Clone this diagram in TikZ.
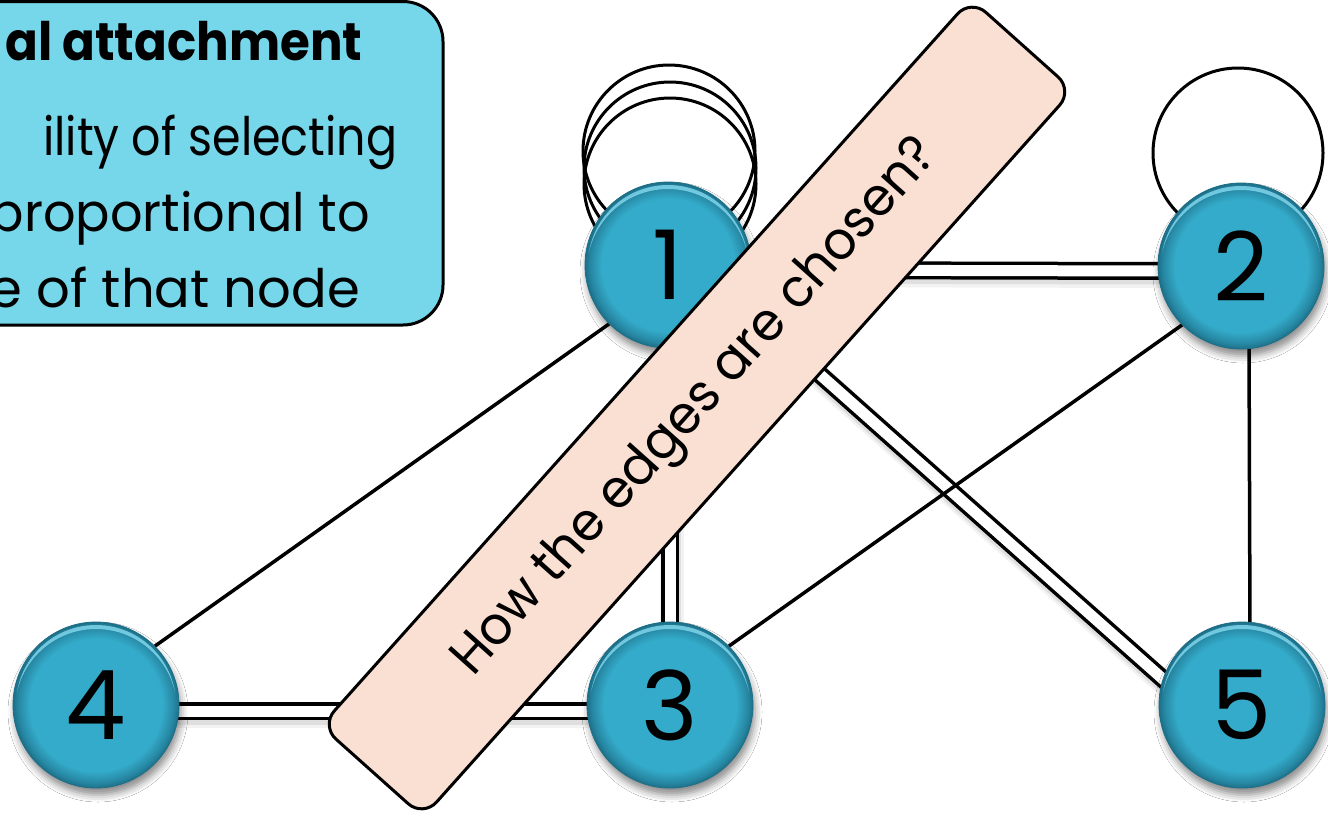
\documentclass[tikz,border=0pt]{standalone}
\usepackage{fontspec}
\setmainfont{Poppins}
\usetikzlibrary{calc,shadows.blur}

\definecolor{ballmid}{HTML}{34ABCA}
\definecolor{balldark}{HTML}{1D6F88}
\definecolor{ballhi}{HTML}{8BE0F5}
\definecolor{notefill}{HTML}{76D6EA}
\definecolor{bannerfill}{HTML}{FADFD3}

% flat teal disc with a darker rim
\pgfdeclareradialshading{ballshade}{\pgfpoint{0bp}{0bp}}{%
  color(0bp)=(ballmid); color(20bp)=(ballmid);
  color(23.5bp)=(balldark!60!ballmid); color(25bp)=(balldark); color(50bp)=(balldark)}

% text squeezed or stretched to a given width, keeping its height
\newcommand\fitto[2]{\resizebox{#1}{\height}{#2}}
\newcommand\slidefont{\fontsize{53}{60}\selectfont}

\tikzset{
  ball/.style={circle, minimum size=166pt, inner sep=0pt, shade, shading=ballshade,
    draw=balldark, line width=0.8pt,
    blur shadow={shadow xshift=2pt, shadow yshift=-7pt, shadow blur radius=7pt, shadow opacity=45},
    font=\fontsize{96}{96}\selectfont,
    path picture={
      \coordinate (pc) at (path picture bounding box.center);
      \begin{scope}
        \clip (pc) circle[radius=80];
        \fill[ballhi, opacity=.75, even odd rule]
          ($(pc)+(-100,-100)$) rectangle ($(pc)+(100,100)$)
          ($(pc)+(0,5)$) circle[radius=81];
      \end{scope}}},
  spot/.style={circle, minimum size=166pt, inner sep=0pt},
  single/.style={line width=3.5pt, black},
  dbl/.style={line width=3.5pt, double=white, double distance=11pt},
  dblshadowa/.style={line width=24pt, black, opacity=.05},
  dblshadowb/.style={line width=19pt, black, opacity=.08},
  loopline/.style={line width=3pt, black},
  banner/.style={rectangle, rounded corners=20pt, minimum width=975pt, minimum height=137pt,
    fill=bannerfill, draw=black, line width=3pt, rotate=48.2, inner sep=0pt},
  boxtext/.style={inner sep=0pt, font=\slidefont},
}

\begin{document}
\begin{tikzpicture}[x=1pt, y=-1pt]
  \useasboundingbox (0,0) rectangle (1328,815);
  \clip (0,0) rectangle (1328,815);
  \fill[white] (0,0) rectangle (1328,815);

  % invisible placeholders giving the edges their anchors
  \node[spot] (n1) at (668,265) {};
  \node[spot] (n2) at (1241,266) {};
  \node[spot] (n3) at (670,705) {};
  \node[spot] (n4) at (96,705) {};
  \node[spot] (n5) at (1242,705) {};

  % self loops
  \draw[loopline] (669,151) circle[radius=86];
  \draw[loopline] (670,168) circle[radius=86];
  \draw[loopline] (670,184) circle[radius=86];
  \draw[loopline] (1238,153) circle[radius=85];

  % double edges: soft shadow, then the pair of lines
  \coordinate (a12) at ($(n1.east)+(-10,5)$);   \coordinate (b12) at ($(n2.west)+(10,5)$);
  \coordinate (a13) at ($(n1.south)+(2,-10)$);  \coordinate (b13) at ($(n3.north)+(0,10)$);
  \coordinate (a43) at ($(n4.east)+(-10,6)$);   \coordinate (b43) at ($(n3.west)+(10,6)$);
  \coordinate (a15) at ($(n1)+(32,3)$);         \coordinate (b15) at ($(n5)+(-42,7)$);
  \foreach \a/\b in {a12/b12, a13/b13, a43/b43, a15/b15}{
    \draw[dblshadowa] ($(\a)+(2,5)$) -- ($(\b)+(2,5)$);
    \draw[dblshadowb] ($(\a)+(1,4)$) -- ($(\b)+(1,4)$);
  }
  \draw[dbl] (a12) -- (b12);
  \draw[dbl] (a13) -- (b13);
  \draw[dbl] (a43) -- (b43);
  \draw[dbl] (a15) -- (b15);

  % single edges
  \draw[single] (n1.south west) -- (n4.north east);
  \draw[single] (n2.south west) -- (n3.north east);
  \draw[single] ($(n2.south)+(8,-10)$) -- ($(n5.north)+(8,10)$);

  % visible discs
  \node[ball] (d1) at (n1) {1};
  \node[ball] (d2) at (n2) {2};
  \node[ball] (d3) at (n3) {3};
  \node[ball] (d4) at (n4) {4};
  \node[ball] (d5) at (n5) {5};

  % tilted banner
  \node[banner] (q) at (697,408)
    {\slidefont\fitto{700pt}{How the edges are chosen?}};

  % note box
  \draw[fill=notefill, line width=3pt, rounded corners=40pt] (-80,1.5) rectangle (443,325);
  \node[boxtext, anchor=base west] (t1) at (5,60)
    {\bfseries\fitto{357pt}{al attachment}};
  \node[boxtext, anchor=base west] (t2) at (43,155)
    {\fitto{354pt}{ility of selecting}};
  \node[boxtext, anchor=base east] (t3) at (370,231)
    {\fitto{380pt}{proportional to}};
  \node[boxtext, anchor=base east] (t4) at (360,307)
    {\fitto{370pt}{e of that node}};
\end{tikzpicture}
\end{document}
